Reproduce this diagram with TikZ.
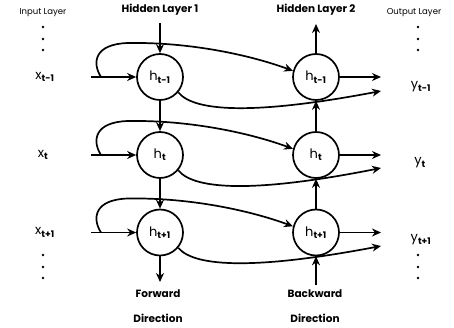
\documentclass[tikz,border=0pt]{standalone}
\usepackage{fontspec}
\setmainfont{Poppins}
\usetikzlibrary{arrows.meta}
\newcommand{\sbx}[1]{\textsubscript{\bfseries #1}}
\begin{document}
\begin{tikzpicture}[x=1pt,y=-1pt,
  hnode/.style={circle,draw,line width=1.7pt,minimum size=46pt,inner sep=0pt,font=\fontsize{13}{13}\selectfont},
  lbl/.style={font=\fontsize{13}{13}\selectfont},
  head/.style={font=\fontsize{10.5}{11}\bfseries\selectfont},
  small/.style={font=\fontsize{8.5}{9}\selectfont},
  conn/.style={line width=1.7pt,-{Stealth[length=9pt,width=8pt]}},
  dot/.style={circle,fill,inner sep=0pt,minimum size=2.8pt}]
\useasboundingbox (0,0) rectangle (454,328);
% headers
\node[small] (inl) at (43,13) {Input Layer};
\node[head] (hl1) at (160,10) {Hidden Layer 1};
\node[head] (hl2) at (316,10) {Hidden Layer 2};
\node[small] (outl) at (414,13) {Output Layer};
% dots
\foreach \i/\y in {1/27,2/39,3/50}{
  \node[dot] (di\i) at (43,\y) {};
  \node[dot] (do\i) at (418,\y) {};
}
\foreach \i/\y in {1/255,2/267,3/278}{
  \node[dot] (dbi\i) at (43,\y) {};
  \node[dot] (dbo\i) at (418,\y) {};
}
% input labels
\node[lbl] (x1) at (45,77) {x\sbx{t-1}};
\node[lbl] (x2) at (43,155) {x\sbx{t}};
\node[lbl] (x3) at (45,232.5) {x\sbx{t+1}};
% output labels
\node[lbl] (y1) at (421,87) {y\sbx{t-1}};
\node[lbl] (y2) at (420,163) {y\sbx{t}};
\node[lbl] (y3) at (421,240) {y\sbx{t+1}};
% hidden nodes
\node[hnode] (L1) at (160,77) {h\sbx{t-1}};
\node[hnode] (L2) at (160,155) {h\sbx{t}};
\node[hnode] (L3) at (160,232.5) {h\sbx{t+1}};
\node[hnode] (R1) at (316,77) {h\sbx{t-1}};
\node[hnode] (R2) at (316,155) {h\sbx{t}};
\node[hnode] (R3) at (316,232.5) {h\sbx{t+1}};
% bottom labels
\node[head] (fw) at (158,294) {Forward};
\node[head] (fd) at (158,318) {Direction};
\node[head] (bw) at (315,294) {Backward};
\node[head] (bd) at (315,318) {Direction};
% free ends
\coordinate (ti1) at (91,77);
\coordinate (ti2) at (91,155);
\coordinate (ti3) at (91,232.5);
\coordinate (topL) at (160,23);
\coordinate (topR) at (316,24);
\coordinate (o1a) at (381,77);
\coordinate (o2a) at (381,155);
\coordinate (o3a) at (381,232.5);
\coordinate (o1b) at (381,91);
\coordinate (o2b) at (381,168);
\coordinate (o3b) at (381,246);
\coordinate (fwe) at (160,282);
\coordinate (bwe) at (316,285);
% vertical arrows
\draw[conn] (topL) -- (L1);
\draw[conn] (L1) -- (L2);
\draw[conn] (L2) -- (L3);
\draw[conn] (L3) -- (fwe);
\draw[conn] (R1) -- (topR);
\draw[conn] (R2) -- (R1);
\draw[conn] (R3) -- (R2);
\draw[conn] (bwe) -- (R3);
% input arrows
\draw[conn] (ti1) -- (L1);
\draw[conn] (ti2) -- (L2);
\draw[conn] (ti3) -- (L3);
% input -> backward hidden curves
\foreach \r/\yy in {1/77,2/155,3/232.5}{
  \draw[conn]
    (101,\yy) .. controls (92,\yy-14) and (94,\yy-33) .. (128,\yy-34)
    .. controls (190,\yy-35) and (250,\yy-22) .. (R\r.165);
}
% output arrows
\draw[conn] (R1) -- (o1a);
\draw[conn] (R2) -- (o2a);
\draw[conn] (R3) -- (o3a);
% forward hidden -> output curves
\draw[conn] (L1.-40) .. controls (195,113) and (260,114) .. (o1b);
\draw[conn] (L2.-40) .. controls (195,191) and (260,192) .. (o2b);
\draw[conn] (L3.-40) .. controls (195,268) and (260,269) .. (o3b);
\end{tikzpicture}
\end{document}
